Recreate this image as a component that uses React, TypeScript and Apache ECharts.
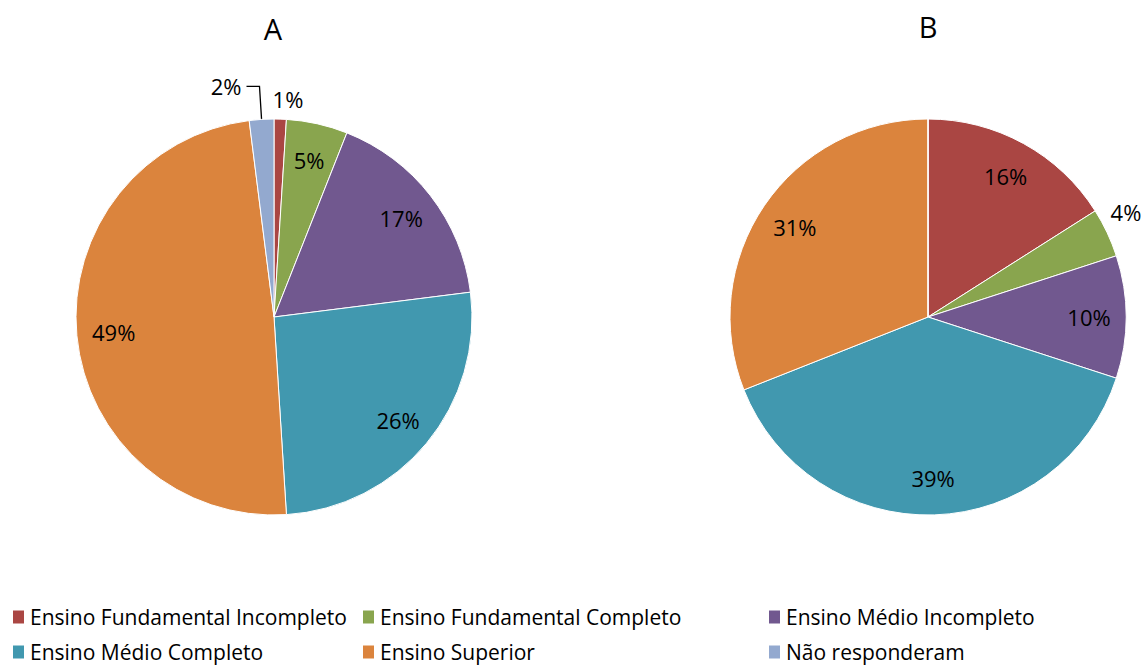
import React, { useEffect, useRef } from "react";
import * as echarts from "echarts";

const categories = [
  "Ensino Fundamental Incompleto",
  "Ensino Fundamental Completo",
  "Ensino Médio Incompleto",
  "Ensino Médio Completo",
  "Ensino Superior",
  "Não responderam",
];
const valuesA = [1, 5, 17, 26, 49, 2];
const valuesB = [16, 4, 10, 39, 31, 0];
const titles = ["A", "B"];

const colors = ["#AA4643", "#89A54E", "#71588F", "#4198AF", "#DB843D", "#93A9CF"];
const FONT = "Open Sans";

// where each slice's label goes: inner ring, outer ring, leader line, or none
const placementA = ["outer", "inner", "inner", "inner", "inner", "leader"];
const placementB = ["inner", "outer", "inner", "inner", "inner", "none"];
// small nudges for outer-ring labels ([dx, dy])
const nudgeA: (number[] | null)[] = [[7, 3], null, null, null, null, null];
const nudgeB: (number[] | null)[] = [null, [-2, -11], null, null, null, null];

const R = 198;

function buildPie(values: number[], placement: string[], nudges: (number[] | null)[], center: number[]) {
  const labelBase = {
    color: "#000",
    fontFamily: FONT,
    fontSize: 22,
    formatter: "{c}%",
  };
  const main = {
    type: "pie",
    center,
    radius: R,
    startAngle: 90,
    clockwise: true,
    avoidLabelOverlap: false,
    emphasis: { disabled: true },
    itemStyle: { borderColor: "#fff", borderWidth: 1 },
    label: { show: false, ...labelBase },
    labelLine: { show: false },
    data: categories.map((name, i) => ({
      name,
      value: values[i],
      itemStyle: { color: colors[i] },
      label:
        placement[i] === "leader"
          ? { show: true, position: "outside", width: 40, overflow: "none", align: "right" }
          : { show: false },
      labelLine:
        placement[i] === "leader"
          ? { show: true, length: 33, length2: 13, lineStyle: { color: "#000", width: 1.3 } }
          : { show: false },
    })),
  };
  const ring = (r0: number, r1: number, kind: string) => ({
    type: "pie",
    center,
    radius: [r0, r1],
    startAngle: 90,
    clockwise: true,
    silent: true,
    avoidLabelOverlap: false,
    emphasis: { disabled: true },
    itemStyle: { color: "rgba(0,0,0,0)" },
    label: { show: true, position: "inside", ...labelBase },
    labelLine: { show: false },
    labelLayout: (p: any) => {
      const n = kind === "outer" ? nudges[p.dataIndex] : null;
      return n ? { dx: n[0], dy: n[1] } : {};
    },
    data: categories.map((name, i) => ({
      name,
      value: values[i],
      label: { show: placement[i] === kind },
    })),
  });
  return [main, ring(118, R, "inner"), ring(R, 238, "outer")];
}

const legendCols = [
  { left: 11, names: [categories[0], categories[3]] },
  { left: 361, names: [categories[1], categories[4]] },
  { left: 767, names: [categories[2], categories[5]] },
];

export default function App() {
  const ref = useRef<HTMLDivElement>(null);
  useEffect(() => {
    if (!ref.current) return;
    const chart = echarts.init(ref.current, null, { renderer: "svg" });
    const option = {
      animation: false,
      backgroundColor: "#fff",
      graphic: [
        {
          type: "text",
          x: 273,
          y: 28,
          style: { text: titles[0], align: "center", verticalAlign: "middle", fontSize: 29, fontFamily: FONT, fill: "#000" },
        },
        {
          type: "text",
          x: 928,
          y: 26,
          style: { text: titles[1], align: "center", verticalAlign: "middle", fontSize: 29, fontFamily: FONT, fill: "#000" },
        },
      ],
      legend: legendCols.map((c) => ({
        orient: "vertical",
        left: c.left,
        top: 606,
        padding: 0,
        itemGap: 13,
        itemWidth: 13,
        itemHeight: 15,
        icon: "rect",
        selectedMode: false,
        textStyle: { fontFamily: FONT, fontSize: 21, color: "#000", lineHeight: 22 },
        data: c.names.map((n) => ({ name: n, itemStyle: { color: colors[categories.indexOf(n)] } })),
      })),
      series: [
        ...buildPie(valuesA, placementA, nudgeA, [274, 317]),
        ...buildPie(valuesB, placementB, nudgeB, [928, 317]),
      ],
    };
    chart.setOption(option as any);
    return () => chart.dispose();
  }, []);
  return (
    <div
      ref={ref}
      style={{ position: "fixed", left: 0, top: 0, width: 1148, height: 666, background: "#fff" }}
    />
  );
}
